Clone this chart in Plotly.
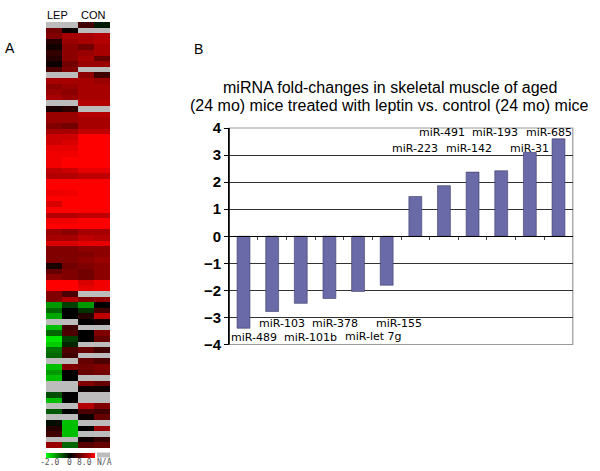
import plotly.graph_objects as go

# ---- panel A: heatmap (LEP x2, CON x2), None = N/A ----
lep_1 = [None, 0.9, 1.0, 0.3, 0.15, 0.4, 0.3, 0.1, 0.6, None,
         1.3, 1.1, 1.2, 1.3, None, 0.2, 1.2, 1.2, 1.0, 1.3,
         1.6, 1.6, 1.8, 1.9, 1.9, 1.9, 1.5, 1.4, 2.0, 2.0,
         1.85, 2.0, 1.7, 2.0, 1.4, 1.9, 2.0, 1.2, 1.3, 1.7,
         1.0, 1.0, 1.0, 0.2, 0.8, 1.1, 2.0, 2.0, 1.0, 1.0,
         -1.2, -0.8, -1.3, None, -1.5, -0.8, -1.8, -1.6, -0.9, -0.8,
         None, -1.5, -1.2, -1.5, None, None, -0.6, -1.5, None, -0.7,
         None, -0.1, 0.3, 0.5, None, 1.2]
lep_2 = [None, 0.1, 1.3, 1.2, 1.1, 1.1, 1.1, 0.9, 1.0, None,
         1.3, 1.2, 1.1, 1.2, None, 0.35, 1.2, 1.2, 0.9, 1.3,
         1.6, 1.7, 1.8, 1.9, 2.0, 2.0, 1.6, 1.4, 2.0, 2.0,
         1.9, 2.0, 2.0, 2.0, 1.4, 1.9, 2.0, 1.1, 1.3, 1.7,
         1.0, 1.0, 1.0, 0.9, 1.0, 1.0, 2.0, 2.0, 0.6, 1.4,
         -0.5, 0.0, 0.0, None, 0.5, 0.6, -0.5, -0.3, 0.6, 0.5,
         None, 1.0, 0.0, 0.0, None, None, 0.0, 0.0, None, 0.0,
         None, -1.5, -1.5, -1.5, None, -0.8]
con_1 = [0.5, None, 1.3, 1.3, 0.9, 1.2, 1.3, 1.2, None, 1.1,
         1.3, 1.3, 1.3, 1.3, 1.4, None, 1.4, 1.3, 1.3, 1.5,
         2.0, 2.0, 2.0, 2.0, 2.0, 2.0, 1.8, 1.5, 2.0, 2.0,
         2.0, 2.0, 2.0, 2.0, 1.5, 2.0, 2.0, 1.3, 1.5, 1.8,
         1.1, 1.0, 1.1, 1.0, 0.9, 0.9, 1.7, 1.8, None, 1.0,
         -1.2, -0.4, 0.3, 0.0, None, 0.0, 0.0, None, 0.8, None,
         0.8, 0.9, 0.8, None, 1.0, 0.1, None, None, 1.4, 0.6,
         0.1, None, 0.0, None, 0.1, 0.7]
con_2 = [-0.2, None, 1.4, 1.4, 1.3, 1.3, 0.8, 1.2, None, 0.5,
         1.2, 1.3, 1.3, 1.3, 1.4, None, 1.4, 1.3, 1.3, 1.5,
         2.0, 2.0, 2.0, 2.0, 2.0, 2.0, 1.8, 1.5, 2.0, 2.0,
         2.0, 2.0, 2.0, 2.0, 1.5, 2.0, 2.0, 1.3, 1.4, 1.8,
         1.1, 1.1, 1.2, 1.1, 1.1, 1.1, 1.9, 1.9, None, 1.1,
         0.0, 0.5, 1.5, 0.1, None, 1.0, 0.8, None, 0.5, None,
         0.6, 1.0, 0.9, None, 0.8, 0.1, None, None, 1.0, 0.5,
         0.8, None, 1.2, None, 0.4, 0.8]
heat_cols = ["LEP 1", "LEP 2", "CON 1", "CON 2"]

# ---- panel B: fold changes ----
mirnas = ["miR-489", "miR-103", "miR-101b", "miR-378", "miR-let 7g", "miR-155",
          "miR-223", "miR-491", "miR-142", "miR-193", "miR-31", "miR-685"]
fold_change = [-3.4, -2.78, -2.48, -2.3, -2.04, -1.81,
               1.47, 1.87, 2.37, 2.42, 3.1, 3.6]

W, H = 600, 471
def px(x):
    return x / W
def py(y):
    return 1 - y / H

n_rows = len(lep_1)
rows = list(range(n_rows))
z = [[lep_1[i], lep_2[i], con_1[i], con_2[i]] for i in rows]
z_na = [[1, 1, 1, 1] for i in rows]

fig = go.Figure()

# gray under-layer shows through the N/A cells
fig.add_trace(go.Heatmap(
    z=z_na, x=heat_cols, y=rows, xaxis="x2", yaxis="y2",
    colorscale=[[0, "#bcbcbc"], [1, "#bcbcbc"]], showscale=False, hoverinfo="skip",
))
fig.add_trace(go.Heatmap(
    z=z, x=heat_cols, y=rows, xaxis="x2", yaxis="y2",
    zmin=-2, zmax=2,
    colorscale=[[0, "#00ff00"], [0.5, "#000000"], [1, "#ff0000"]],
    colorbar=dict(orientation="h", x=px(46), xanchor="left", y=py(452.5), yanchor="top",
                  lenmode="pixels", len=49, thicknessmode="pixels", thickness=5,
                  outlinewidth=0, showticklabels=False, ticks="", xpad=0, ypad=0),
))

fig.add_trace(go.Bar(
    x=list(range(len(mirnas))), y=fold_change, width=0.45,
    marker=dict(color="#6a6aa8", line=dict(color="#3a3a6a", width=0.6)),
    hovertext=mirnas, showlegend=False,
))

y_lo, y_hi = py(344.5), py(128)
fig.update_layout(
    width=W, height=H, margin=dict(l=0, r=0, t=0, b=0, autoexpand=False),
    paper_bgcolor="white", plot_bgcolor="rgba(0,0,0,0)",
    showlegend=False, bargap=0.55,
    font=dict(family="Liberation Sans, Arial, sans-serif", color="black"),
    xaxis=dict(domain=[px(229.2), px(572.8)], range=[-0.5, len(mirnas) - 0.5],
               anchor="free", position=(y_lo + y_hi) / 2, showgrid=False, zeroline=False,
               showline=True, linecolor="black", linewidth=1,
               tickvals=[i + 0.5 for i in range(len(mirnas) - 1)], ticks="outside",
               ticklen=3, tickcolor="#444", showticklabels=False),
    yaxis=dict(domain=[y_lo, y_hi], range=[-4, 4], dtick=1, anchor="x",
               showgrid=True, gridcolor="#333", gridwidth=1, zeroline=False,
               showline=True, linecolor="black", linewidth=1,
               ticks="outside", ticklen=4, tickcolor="black",
               tickfont=dict(size=15, weight="bold", family="Liberation Sans, Arial")),
    xaxis2=dict(domain=[px(46), px(110)], anchor="y2", visible=False),
    yaxis2=dict(domain=[py(448), py(22)], anchor="x2", visible=False,
                autorange="reversed"),
)

# plot-area frame (gray right/bottom edge)
fig.add_shape(type="rect", xref="x domain", yref="y domain", x0=0, x1=1, y0=0, y1=1,
              line=dict(color="#9a9a9a", width=1.2), layer="below")
fig.add_shape(type="line", xref="x domain", yref="y domain", x0=0, x1=0, y0=0, y1=1,
              line=dict(color="black", width=1))
# N/A key box
fig.add_shape(type="rect", xref="paper", yref="paper", x0=px(97), x1=px(110),
              y0=py(457.5), y1=py(452.5), fillcolor="#bcbcbc", line=dict(width=0))

ann = []
def text(x, y, s, size, **kw):
    ann.append(dict(x=px(x), y=py(y), xref="paper", yref="paper", text=s,
                    xanchor="center", yanchor="middle", showarrow=False,
                    font=dict(size=size, **kw.pop("font", {})), **kw))

text(10, 48, "A", 14)
text(198, 49, "B", 14)
text(57, 15, "LEP", 11)
text(93, 15, "CON", 11)
text(390, 88, "miRNA fold-changes in skeletal muscle of aged", 16)
text(389, 106, "(24 mo) mice treated with leptin vs. control (24 mo) mice", 16)
for xx, s in [(49, "-2.0"), (69, "0"), (84, "8.0"), (104, "N/A")]:
    text(xx, 462, s, 8, font=dict(family="DejaVu Sans Mono", color="#555"))

# bar labels: alternating rows below the negative bars / above the positive ones
label_y = [-3.75, -3.21, -3.75, -3.21, -3.72, -3.21, 3.26, 3.85, 3.26, 3.85, 3.26, 3.85]
label_dx = [10, 10, 10, 6, 15, 12, 0, -2, -4, -6, 0, -9]
for i, name in enumerate(mirnas):
    ann.append(dict(x=i, y=label_y[i], xref="x", yref="y", text=name, showarrow=False,
                    xshift=label_dx[i], font=dict(size=11, family="DejaVu Sans")))

fig.update_layout(annotations=ann)
# page body has a default 8px margin; drop it so the figure sits at the window origin
fig.write_html("out.html", config={"displayModeBar": False},
               post_script="document.body.style.margin='0';")
